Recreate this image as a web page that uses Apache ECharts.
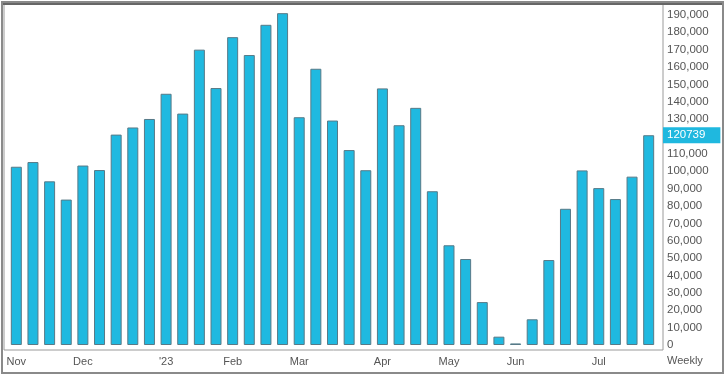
<!DOCTYPE html>
<html><head><meta charset="utf-8">
<script src="https://cdn.jsdelivr.net/npm/echarts@6/dist/echarts.min.js"></script>
<style>html,body{margin:0;padding:0;background:#fff}#c{width:726px;height:376px}</style>
</head><body><div id="c"></div>
<script>
var weeks = ['2022-11-04','2022-11-11','2022-11-18','2022-11-25','2022-12-02','2022-12-09','2022-12-16','2022-12-23','2022-12-30',
 '2023-01-06','2023-01-13','2023-01-20','2023-01-27','2023-02-03','2023-02-10','2023-02-17','2023-02-24','2023-03-03','2023-03-10',
 '2023-03-17','2023-03-24','2023-03-31','2023-04-07','2023-04-14','2023-04-21','2023-04-28','2023-05-05','2023-05-12','2023-05-19',
 '2023-05-26','2023-06-02','2023-06-09','2023-06-16','2023-06-23','2023-06-30','2023-07-07','2023-07-14','2023-07-21','2023-07-28'];
var values = [102600,105300,94200,83700,103300,100700,121100,125200,130100,144600,133200,170000,147900,177200,166900,184300,191000,
 131100,159000,129200,112200,100600,147700,126500,136500,88500,57400,49500,24700,4800,900,14800,48900,78400,100500,90300,84000,96900,120739];
var monthLabels = {'2022-11-04':'Nov','2022-12-02':'Dec','2023-01-06':"'23",'2023-02-03':'Feb','2023-03-03':'Mar',
 '2023-04-07':'Apr','2023-05-05':'May','2023-06-02':'Jun','2023-07-07':'Jul'};
var lastValue = 120739;
var freqLabel = 'Weekly';

var chart = echarts.init(document.getElementById('c'));
var font = 'Liberation Sans, Arial, sans-serif';
chart.setOption({
  animation: false,
  grid: {left: 8, right: 69, top: 5, bottom: 31},
  xAxis: {
    type: 'category', data: weeks, boundaryGap: true,
    axisLine: {show: false}, axisTick: {show: false}, splitLine: {show: false},
    axisLabel: {
      interval: 0, margin: 11, fontFamily: font, fontSize: 11, color: '#555',
      formatter: function (v) { return monthLabels[v] || ''; }
    }
  },
  yAxis: {
    type: 'value', position: 'right', min: 0, max: 195700, interval: 10000,
    axisLine: {show: false}, axisTick: {show: false}, splitLine: {show: false},
    axisLabel: {
      margin: 10, fontFamily: font, fontSize: 11.5, color: '#555', showMaxLabel: false,
      formatter: function (v) { return v.toLocaleString('en-US'); }
    },
    axisPointer: {
      show: true, value: lastValue, status: 'show', triggerTooltip: false,
      lineStyle: {opacity: 0},
      label: {
        show: true, backgroundColor: '#1fb8df', color: '#fff', fontFamily: font, fontSize: 11.5,
        padding: [2, 15, 2, 4], margin: 6, borderRadius: 0,
        formatter: function () { return String(lastValue); }
      }
    }
  },
  series: [{
    type: 'bar', data: values, barWidth: 11,
    itemStyle: {color: '#1fb9e0', borderColor: '#587a87', borderWidth: 1}
  }],
  graphic: [
    {type: 'rect', shape: {x: 2, y: 2, width: 721, height: 371}, style: {fill: 'none', stroke: '#8a8a8a', lineWidth: 2}},
    {type: 'rect', shape: {x: 4, y: 4.5, width: 659, height: 345.5}, style: {fill: 'none', stroke: '#9a9a9a', lineWidth: 1}},
    {type: 'line', shape: {x1: 3, y1: 4, x2: 722, y2: 4}, style: {stroke: '#666', lineWidth: 2}},
    {type: 'text', left: 667, top: 355, style: {text: freqLabel, font: '11px ' + font, fill: '#555'}}
  ]
});
</script></body></html>
